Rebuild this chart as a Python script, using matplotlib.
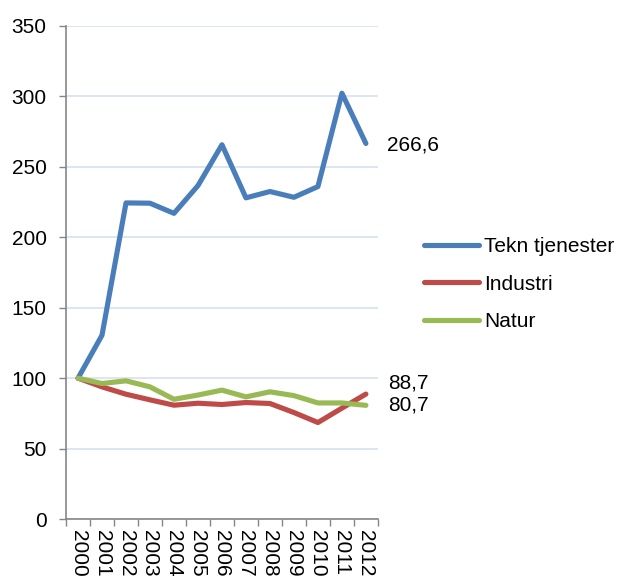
#!/usr/bin/env python3

import numpy as np
import matplotlib.pyplot as plt

plt.rcParams['font.family'] = ['Liberation Sans', 'DejaVu Sans']

years = ["2000", "2001", "2002", "2003", "2004", "2005", "2006",
         "2007", "2008", "2009", "2010", "2011", "2012"]
tekn = [100, 130.5, 224.4, 224.2, 217, 236.7, 265.7, 228, 232.5, 228.4, 236, 302.3, 266.6]
industri = [100, 93.8, 88.6, 84.6, 80.8, 82.2, 81.3, 82.7, 82, 75.6, 68.5, 78.7, 88.7]
natur = [100, 96.2, 98.1, 93.8, 85, 88, 91.5, 86.7, 90.3, 87.6, 82.4, 82.4, 80.7]

c_blue = "#4a7ebb"
c_red = "#be4b48"
c_green = "#98b954"
fs = 15

fig = plt.figure(figsize=(6.2, 5.79), dpi=100)
ax = fig.add_axes([0.1065, 0.1036, 0.503, 0.8515])

x = np.arange(len(years))
lw = 3.7
ax.plot(x, tekn, color=c_blue, lw=lw, label="Tekn tjenester", solid_capstyle="round")
ax.plot(x, industri, color=c_red, lw=lw, label="Industri", solid_capstyle="round")
ax.plot(x, natur, color=c_green, lw=lw, label="Natur", solid_capstyle="round")

ax.set_xlim(-0.5, len(years) - 0.5)
ax.set_ylim(0, 350)
ax.set_yticks(np.arange(0, 351, 50))
ax.yaxis.grid(True, color="#d6e2f0", lw=1.2)
ax.set_axisbelow(True)

ax.set_xticks(x)
ax.set_xticklabels(years, rotation=-90, fontsize=fs)
ax.set_xticks(np.arange(-0.5, len(years), 1), minor=True)
ax.tick_params(axis="x", which="major", length=0, pad=8)
ax.tick_params(axis="x", which="minor", length=5, color="#868686", width=1)
ax.tick_params(axis="y", length=5, color="#868686", width=1, labelsize=fs, pad=9)

for s in ["top", "right"]:
    ax.spines[s].set_visible(False)
for s in ["left", "bottom"]:
    ax.spines[s].set_color("#868686")
    ax.spines[s].set_linewidth(1.2)

# end labels
ax.annotate("266,6", xy=(x[-1], tekn[-1]), xytext=(15, -1), textcoords="offset points",
            va="center", ha="left", fontsize=fs, annotation_clip=False)
ax.annotate("88,7", xy=(x[-1], industri[-1]), xytext=(16, 8), textcoords="offset points",
            va="center", ha="left", fontsize=fs, annotation_clip=False)
ax.annotate("80,7", xy=(x[-1], natur[-1]), xytext=(16, 0), textcoords="offset points",
            va="center", ha="left", fontsize=fs, annotation_clip=False)

fig.legend(loc="center left", bbox_to_anchor=(424 / 620, 1 - 284 / 579), frameon=False,
           fontsize=fs, borderpad=0, borderaxespad=0, handlelength=2.65,
           handletextpad=0.25, labelspacing=0.89)

fig.savefig("out.png", dpi=100)
